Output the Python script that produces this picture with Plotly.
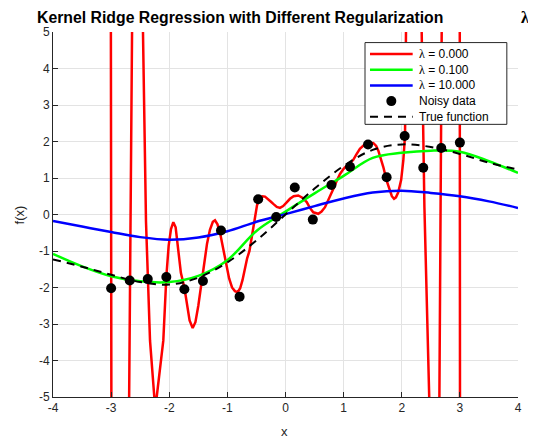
import plotly.graph_objects as go

# ---- data ----
data_x = [-3.00, -2.68, -2.37, -2.05, -1.74, -1.42, -1.11, -0.79, -0.47, -0.16,
          0.16, 0.47, 0.79, 1.11, 1.42, 1.74, 2.05, 2.37, 2.68, 3.00]
data_y = [-2.02, -1.81, -1.77, -1.71, -2.05, -1.82, -0.44, -2.25, 0.42, -0.07,
          0.74, -0.14, 0.81, 1.31, 1.92, 1.02, 2.15, 1.28, 1.82, 1.97]

grid_x = [-4.0, -3.5, -3.0, -2.5, -2.0, -1.5, -1.0, -0.5, 0.0,
          0.5, 1.0, 1.5, 2.0, 2.5, 3.0, 3.5, 4.0]
true_y = [-1.23, -1.43, -1.65, -1.85, -1.92, -1.73, -1.31, -0.71, 0.0,
          0.71, 1.33, 1.77, 1.92, 1.85, 1.66, 1.42, 1.23]
lam01_y = [-1.08, -1.42, -1.69, -1.83, -1.85, -1.68, -1.25, -0.45, 0.08,
           0.58, 1.06, 1.55, 1.69, 1.75, 1.72, 1.46, 1.14]
lam10_y = [-0.18, -0.33, -0.48, -0.62, -0.69, -0.63, -0.46, -0.20, 0.01,
           0.23, 0.44, 0.60, 0.65, 0.59, 0.50, 0.36, 0.18]

lam0_x = [-3.05, -2.95, -2.82, -2.715, -2.615, -2.56, -2.51, -2.48, -2.452, -2.40,
          -2.37, -2.331, -2.257, -2.237, -2.216, -2.16, -2.102, -2.05, -2.01, -1.97,
          -1.93, -1.89, -1.85, -1.80, -1.74, -1.70, -1.65, -1.597, -1.55, -1.50,
          -1.45, -1.40, -1.35, -1.30, -1.25, -1.213, -1.17, -1.12, -1.07, -1.02,
          -0.97, -0.92, -0.87, -0.822, -0.78, -0.74, -0.70, -0.66, -0.62, -0.58,
          -0.53, -0.49, -0.45, -0.40, -0.353, -0.30, -0.25, -0.21, -0.15, -0.095,
          -0.04, 0.02, 0.077, 0.14, 0.22, 0.29, 0.365, 0.42, 0.478, 0.564,
          0.62, 0.68, 0.75, 0.822, 0.88, 0.938, 1.0, 1.053, 1.11, 1.166,
          1.22, 1.28, 1.35, 1.43, 1.51, 1.56, 1.597, 1.64, 1.683, 1.74,
          1.79, 1.83, 1.867, 1.90, 1.94, 1.99, 2.027, 2.056, 2.073, 2.10,
          2.17, 2.24, 2.30, 2.343, 2.39, 2.477, 2.52, 2.58, 2.628, 2.707,
          2.78, 2.88, 2.96, 2.985, 3.015, 3.08]
lam0_y = [60, -60, -60, -10, 10, 22, 20, 12, 5.0, -0.2,
          -1.77, -3.45, -5.0, -5.3, -5.0, -4.3, -3.45, -1.71, -0.85, -0.40,
          -0.21, -0.35, -0.85, -1.60, -2.00, -2.45, -2.90, -3.11, -2.95, -2.50,
          -1.95, -1.35, -0.80, -0.42, -0.20, -0.16, -0.27, -0.55, -0.95, -1.40,
          -1.75, -2.00, -2.10, -2.13, -2.02, -1.80, -1.50, -1.20, -1.00, -0.60,
          -0.10, 0.25, 0.43, 0.50, 0.49, 0.43, 0.35, 0.29, 0.21, 0.18,
          0.23, 0.33, 0.43, 0.50, 0.52, 0.46, 0.34, 0.18, 0.06, 0.02,
          0.08, 0.20, 0.43, 0.70, 0.92, 1.11, 1.25, 1.34, 1.40, 1.50,
          1.65, 1.80, 1.90, 1.95, 1.96, 1.88, 1.75, 1.55, 1.30, 0.93,
          0.65, 0.50, 0.43, 0.47, 0.61, 0.95, 1.48, 2.16, 5.0, 10,
          18, 20, 14, 5.0, 0.2, -5.0, -8, -10, -10, 10,
          35, 50, 45, 40, -40, -70]

names = ["λ = 0.000", "λ = 0.100", "λ = 10.000", "Noisy data", "True function"]

x_ticks = [-4, -3, -2, -1, 0, 1, 2, 3, 4]
x_ticklabels = ["-4", "-3", "-2", "-1", "0", "1", "2", "3", "4"]
y_ticks = [-5, -4, -3, -2, -1, 0, 1, 2, 3, 4, 5]
y_ticklabels = ["-5", "-4", "-3", "-2", "-1", "0", "1", "2", "3", "4", "5"]

FONT = "Liberation Sans, Arial, sans-serif"
SERIF = "Liberation Serif, Times New Roman, serif"

styles = [
    dict(kind="line", color="#ff0000", width=2.5, dash="solid"),
    dict(kind="line", color="#00ff00", width=2.5, dash="solid"),
    dict(kind="line", color="#0000ff", width=2.5, dash="solid"),
    dict(kind="dot", color="black"),
    dict(kind="line", color="black", width=2, dash="8px,6px"),
]

fig = go.Figure()
fig.add_trace(go.Scatter(x=lam0_x, y=lam0_y, mode="lines", name=names[0],
                         line=dict(color="#ff0000", width=2.5)))
fig.add_trace(go.Scatter(x=grid_x, y=lam01_y, mode="lines", name=names[1],
                         line=dict(color="#00ff00", width=2.5, shape="spline")))
fig.add_trace(go.Scatter(x=grid_x, y=lam10_y, mode="lines", name=names[2],
                         line=dict(color="#0000ff", width=2.5, shape="spline")))
fig.add_trace(go.Scatter(x=data_x, y=data_y, mode="markers", name=names[3],
                         marker=dict(color="black", size=10)))
fig.add_trace(go.Scatter(x=grid_x, y=true_y, mode="lines", name=names[4],
                         line=dict(color="black", width=2, dash="8px,6px", shape="spline")))

axis_common = dict(showline=True, linecolor="#262626", linewidth=1, ticks="inside",
                   ticklen=5, tickcolor="#262626", showgrid=True, gridcolor="#e3e3e3",
                   zeroline=False, mirror=False, automargin=False,
                   tickfont=dict(family=FONT, size=12, color="#262626"))

fig.update_xaxes(range=[-4, 4], tickvals=x_ticks, ticktext=x_ticklabels, **axis_common)
fig.update_yaxes(range=[-5, 5], tickvals=y_ticks, ticktext=y_ticklabels, **axis_common)

# ---- compact legend box (MATLAB style), in paper coordinates ----
PLOT_W, PLOT_H = 465, 365
box = dict(x0=0.671, x1=0.976, y0=0.747, y1=0.971)
row_y0, row_step = 0.9397, 0.0430
sample_x0, sample_x1, text_x = 0.6817, 0.7735, 0.7828
shapes = [dict(type="rect", xref="paper", yref="paper", **box,
               line=dict(color="#262626", width=1), fillcolor="white", layer="above")]
legend_ann = []
for i, (nm, st) in enumerate(zip(names, styles)):
    yy = row_y0 - i * row_step
    if st["kind"] == "line":
        shapes.append(dict(type="line", xref="paper", yref="paper",
                           x0=sample_x0, x1=sample_x1, y0=yy, y1=yy, layer="above",
                           line=dict(color=st["color"], width=st["width"], dash=st["dash"])))
    else:
        cx = (sample_x0 + sample_x1) / 2
        rx, ry = 5 / PLOT_W, 5 / PLOT_H
        shapes.append(dict(type="circle", xref="paper", yref="paper",
                           x0=cx - rx, x1=cx + rx, y0=yy - ry, y1=yy + ry, layer="above",
                           line=dict(color="black", width=0), fillcolor="black"))
    label = nm.replace("λ", f"<span style='font-family:{SERIF}'>λ</span>")
    legend_ann.append(dict(text=label, xref="paper", yref="paper", x=text_x, y=yy,
                           xanchor="left", yanchor="middle", showarrow=False,
                           font=dict(family=FONT, size=12, color="black")))

# The page adds an 8px body margin, so the figure is 8px smaller than the window
fig.update_layout(
    width=528, height=432,
    margin=dict(l=45, r=18, t=24, b=43),
    plot_bgcolor="white", paper_bgcolor="white",
    font=dict(family=FONT, size=12, color="#262626"),
    showlegend=False,
    shapes=shapes,
    annotations=[
        dict(text="<b>Kernel Ridge Regression with Different Regularization</b>",
             xref="paper", yref="paper", x=0.402, y=1.039, xanchor="center", yanchor="middle",
             showarrow=False, font=dict(family=FONT, size=15.8, color="black")),
        dict(text="<b>λ</b>", xref="paper", yref="paper", x=1.016, y=1.039,
             xanchor="center", yanchor="middle", showarrow=False,
             font=dict(family=SERIF, size=16, color="black")),
        dict(text="x", xref="paper", yref="paper", x=0.497, y=-0.095,
             xanchor="center", yanchor="middle", showarrow=False,
             font=dict(family=FONT, size=13, color="#262626")),
        dict(text="f(x)", xref="paper", yref="paper", x=-0.071, y=0.5, textangle=-90,
             xanchor="center", yanchor="middle", showarrow=False,
             font=dict(family=FONT, size=13, color="#262626")),
    ] + legend_ann,
)

fig.write_html("out.html")
